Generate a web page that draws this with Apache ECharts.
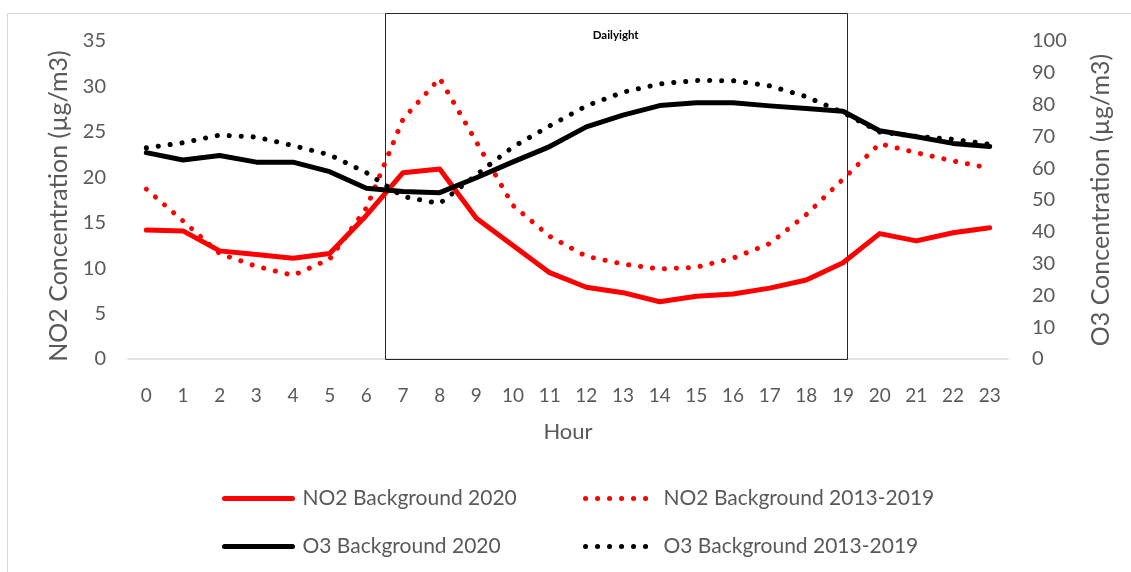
<!DOCTYPE html>
<html>
<head>
<meta charset="utf-8">
<script src="https://cdn.jsdelivr.net/npm/echarts@6.0.0/dist/echarts.min.js"></script>
<style>
  html, body { margin: 0; padding: 0; background: #ffffff; }
  #chart { width: 1131px; height: 572px; }
</style>
</head>
<body>
<div id="chart"></div>
<script>
// Hour of day (category axis)
const hours = ['0','1','2','3','4','5','6','7','8','9','10','11','12','13','14','15','16','17','18','19','20','21','22','23'];

// NO2 concentrations (µg/m3), left axis
const no2Background2020 = [14.2, 14.1, 11.9, 11.5, 11.1, 11.6, 15.8, 20.5, 20.9, 15.5, 12.5, 9.5, 7.9, 7.3, 6.3, 6.9, 7.15, 7.8, 8.7, 10.6, 13.8, 13.0, 13.9, 14.45];
const no2Background2013to2019 = [18.7, 15.2, 11.6, 10.2, 9.2, 11.0, 16.6, 26.4, 30.9, 23.9, 16.9, 13.5, 11.3, 10.45, 9.9, 10.1, 11.1, 12.7, 15.9, 19.8, 23.7, 22.7, 21.8, 21.0];

// O3 concentrations (µg/m3), right axis
const o3Background2020 = [64.9, 62.6, 64.0, 61.9, 61.9, 58.9, 53.7, 52.7, 52.3, 57.0, 62.0, 66.8, 73.0, 76.7, 79.7, 80.6, 80.6, 79.6, 78.8, 77.9, 71.8, 69.9, 67.8, 66.8];
const o3Background2013to2019 = [66.4, 68.0, 70.4, 69.8, 67.1, 64.2, 58.6, 51.1, 48.9, 57.9, 66.7, 73.3, 79.6, 83.9, 86.5, 87.6, 87.5, 85.9, 82.5, 77.5, 71.4, 70.0, 69.1, 67.5];

// Daylight window, in hour-axis units
const daylightStart = 6.5;
const daylightEnd = 19.1;

const FONT = 'Lato, "Open Sans", sans-serif';
const TEXT_GREY = '#595959';
const RED = '#ff0000';
const BLACK = '#000000';
const DOT_DASH = [0.1, 11.9];

const solid = (color) => ({ color: color, width: 5, cap: 'round', join: 'round' });
const dotted = (color) => ({ color: color, width: 5, type: DOT_DASH, cap: 'round', join: 'round' });

const chart = echarts.init(document.getElementById('chart'), null, { renderer: 'canvas' });

// One legend block per entry so the two columns line up
function legendBlock(name, left, top, lineStyle) {
  return {
    left: left, top: top, padding: 0,
    orient: 'horizontal',
    data: [name],
    itemWidth: 68,
    itemHeight: 14,
    selectedMode: false,
    lineStyle: lineStyle,
    itemStyle: { opacity: 0 },
    textStyle: { fontFamily: FONT, fontSize: 21, color: TEXT_GREY, padding: [0, 0, 0, 5] }
  };
}

const option = {
  animation: false,
  backgroundColor: '#ffffff',
  textStyle: { fontFamily: FONT },
  grid: { left: 128, right: 123, top: 41, bottom: 213, containLabel: false },
  legend: [
    legendBlock('NO2 Background 2020', 222, 488, solid(RED)),
    legendBlock('NO2 Background 2013-2019', 583, 488, dotted(RED)),
    legendBlock('O3 Background 2020', 222, 536, solid(BLACK)),
    legendBlock('O3 Background 2013-2019', 583, 536, dotted(BLACK))
  ],
  xAxis: {
    type: 'category',
    data: hours,
    boundaryGap: true,
    name: 'Hour',
    nameLocation: 'middle',
    nameGap: 62,
    nameTextStyle: { fontFamily: FONT, fontSize: 22, color: TEXT_GREY },
    axisLine: { lineStyle: { color: '#d9d9d9', width: 1.5 } },
    axisTick: { show: false },
    axisLabel: { fontFamily: FONT, fontSize: 19, color: TEXT_GREY, margin: 27, interval: 0 },
    splitLine: { show: false }
  },
  yAxis: [
    {
      type: 'value',
      min: 0, max: 35, interval: 5,
      position: 'left',
      name: 'NO2 Concentration (µg/m3)',
      nameLocation: 'middle',
      nameGap: 57,
      nameTextStyle: { fontFamily: FONT, fontSize: 25, color: TEXT_GREY, padding: [0, 12, 0, 0] },
      axisLine: { show: false },
      axisTick: { show: false },
      axisLabel: { fontFamily: FONT, fontSize: 20, color: TEXT_GREY, margin: 22 },
      splitLine: { show: false }
    },
    {
      type: 'value',
      min: 0, max: 100, interval: 10,
      position: 'right',
      name: 'O3 Concentration (µg/m3)',
      nameLocation: 'middle',
      nameGap: 80,
      nameRotate: 90,
      nameTextStyle: { fontFamily: FONT, fontSize: 25, color: TEXT_GREY },
      axisLine: { show: false },
      axisTick: { show: false },
      axisLabel: { fontFamily: FONT, fontSize: 20, color: TEXT_GREY, margin: 24 },
      splitLine: { show: false }
    }
  ],
  series: [
    {
      name: 'NO2 Background 2020', type: 'line', yAxisIndex: 0,
      data: no2Background2020, symbol: 'none',
      lineStyle: solid(RED), itemStyle: { color: RED }
    },
    {
      name: 'NO2 Background 2013-2019', type: 'line', yAxisIndex: 0,
      data: no2Background2013to2019, symbol: 'none',
      lineStyle: dotted(RED), itemStyle: { color: RED }
    },
    {
      name: 'O3 Background 2020', type: 'line', yAxisIndex: 1,
      data: o3Background2020, symbol: 'none',
      lineStyle: solid(BLACK), itemStyle: { color: BLACK }
    },
    {
      name: 'O3 Background 2013-2019', type: 'line', yAxisIndex: 1,
      data: o3Background2013to2019, symbol: 'none',
      lineStyle: dotted(BLACK), itemStyle: { color: BLACK }
    }
  ],
  graphic: [
    {
      id: 'frame', type: 'rect', silent: true, z: -10,
      shape: { x: 7.5, y: 13.5, width: 1200, height: 700 },
      style: { fill: 'none', stroke: '#d9d9d9', lineWidth: 1 }
    }
  ]
};

chart.setOption(option);

// Daylight box: horizontal extent from the hour axis, bottom on the zero line
const x6 = chart.convertToPixel({ xAxisIndex: 0 }, 6);
const x7 = chart.convertToPixel({ xAxisIndex: 0 }, 7);
const band = x7 - x6;
const boxLeft = x6 + (daylightStart - 6) * band;
const boxRight = x6 + (daylightEnd - 6) * band;
const yZero = chart.convertToPixel({ yAxisIndex: 0 }, 0);
const boxTop = 13.5;

chart.setOption({
  graphic: [
    {
      id: 'daylight', type: 'rect', silent: true, z: 1,
      shape: { x: Math.round(boxLeft) + 0.5, y: boxTop, width: Math.round(boxRight - boxLeft), height: Math.round(yZero - boxTop) },
      style: { fill: 'none', stroke: '#262626', lineWidth: 1 }
    },
    {
      id: 'daylightLabel', type: 'text', silent: true, z: 2,
      x: (boxLeft + boxRight) / 2, y: 35,
      style: {
        text: 'Dailyight', fontFamily: FONT, fontSize: 11.5, fontWeight: 'bold',
        fill: '#000000', align: 'center', verticalAlign: 'middle'
      }
    }
  ]
});
</script>
</body>
</html>
